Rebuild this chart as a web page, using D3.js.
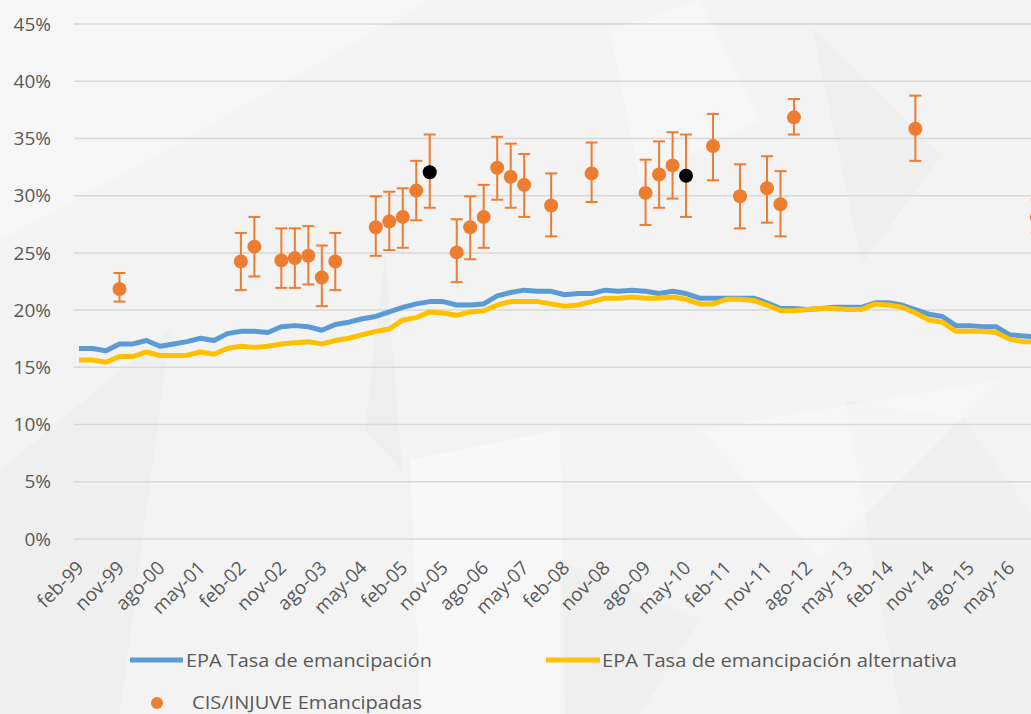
<!DOCTYPE html>
<html>
<head>
<meta charset="utf-8">
<script src="https://cdn.jsdelivr.net/npm/d3@7"></script>
<style>
  body { margin: 0; background: #f3f3f3; overflow: hidden; }
  text { font-family: "Open Sans", sans-serif; fill: #595959; }
</style>
</head>
<body>
<div id="grafiek"></div>
<script>
// trimestres (feb-99 .. nov-16)
var trimestres = [
  "feb-99","may-99","ago-99","nov-99","feb-00","may-00","ago-00","nov-00",
  "feb-01","may-01","ago-01","nov-01","feb-02","may-02","ago-02","nov-02",
  "feb-03","may-03","ago-03","nov-03","feb-04","may-04","ago-04","nov-04",
  "feb-05","may-05","ago-05","nov-05","feb-06","may-06","ago-06","nov-06",
  "feb-07","may-07","ago-07","nov-07","feb-08","may-08","ago-08","nov-08",
  "feb-09","may-09","ago-09","nov-09","feb-10","may-10","ago-10","nov-10",
  "feb-11","may-11","ago-11","nov-11","feb-12","may-12","ago-12","nov-12",
  "feb-13","may-13","ago-13","nov-13","feb-14","may-14","ago-14","nov-14",
  "feb-15","may-15","ago-15","nov-15","feb-16","may-16","ago-16","nov-16"
];

// etiquetas del eje x (cada 9 meses)
var etiquetasX = [
  "feb-99","nov-99","ago-00","may-01","feb-02","nov-02","ago-03","may-04",
  "feb-05","nov-05","ago-06","may-07","feb-08","nov-08","ago-09","may-10",
  "feb-11","nov-11","ago-12","may-13","feb-14","nov-14","ago-15","may-16"
];

// EPA Tasa de emancipación (%)
var epaTasa = [
  16.6,16.6,16.4,17.0,17.0,17.3,16.8,17.0,17.2,17.5,17.3,17.9,18.1,18.1,18.0,18.5,
  18.6,18.5,18.2,18.7,18.9,19.2,19.4,19.8,20.2,20.5,20.7,20.7,20.4,20.4,20.5,21.2,
  21.5,21.7,21.6,21.6,21.3,21.4,21.4,21.7,21.6,21.7,21.6,21.4,21.6,21.4,21.0,21.0,
  21.0,21.0,21.0,20.6,20.1,20.1,20.0,20.1,20.2,20.2,20.2,20.6,20.6,20.4,20.0,19.6,
  19.4,18.6,18.6,18.5,18.5,17.8,17.7,17.6
];

// EPA Tasa de emancipación alternativa (%)
var epaAlternativa = [
  15.6,15.6,15.4,15.9,15.9,16.3,16.0,16.0,16.0,16.3,16.1,16.6,16.8,16.7,16.8,17.0,
  17.1,17.2,17.0,17.3,17.5,17.8,18.1,18.3,19.1,19.3,19.8,19.7,19.5,19.8,19.9,20.4,
  20.7,20.7,20.7,20.5,20.3,20.4,20.7,21.0,21.0,21.1,21.0,21.0,21.1,20.9,20.5,20.5,
  20.9,20.9,20.8,20.4,19.9,19.9,20.0,20.1,20.1,20.0,20.0,20.5,20.4,20.2,19.7,19.1,
  18.9,18.1,18.1,18.1,18.0,17.4,17.2,17.2
];

// CIS/INJUVE Emancipadas: trimestre, valor, intervalo
var cisTrimestre = ["nov-99","feb-02","may-02","nov-02","feb-03","may-03","ago-03","nov-03",
  "ago-04","nov-04","feb-05","may-05","ago-05","feb-06","may-06","ago-06","nov-06","feb-07",
  "may-07","nov-07","ago-08","ago-09","nov-09","feb-10","may-10","nov-10","may-11","nov-11",
  "feb-12","may-12","ago-14","nov-16"];
var cisValor = [21.8,24.2,25.5,24.3,24.5,24.7,22.8,24.2,27.2,27.7,28.1,30.4,32.0,25.0,27.2,28.1,
  32.4,31.6,30.9,29.1,31.9,30.2,31.8,32.6,31.7,34.3,29.9,30.6,29.2,36.8,35.8,28.1];
var cisMin = [20.7,21.7,22.9,21.9,21.9,22.2,20.3,21.7,24.7,25.2,25.4,27.8,28.9,22.4,24.4,25.4,
  29.6,28.9,28.1,26.4,29.4,27.4,28.9,29.7,28.1,31.3,27.1,27.6,26.4,35.3,33.0,26.7];
var cisMax = [23.2,26.7,28.1,27.1,27.1,27.3,25.6,26.7,29.9,30.3,30.6,33.0,35.3,27.9,29.9,30.9,
  35.1,34.5,33.6,31.9,34.6,33.1,34.7,35.5,35.3,37.1,32.7,33.4,32.1,38.4,38.7,29.6];
// puntos marcados en negro
var cisNegro = ["ago-05","may-10"];

var ticksY = [0,5,10,15,20,25,30,35,40,45];

var breedte = 1031, hoogte = 714;
var kleurBlauw = "#5B9BD5", kleurGeel = "#FFC000", kleurOranje = "#ED7D31";

var svg = d3.select("#grafiek").append("svg")
  .attr("width", breedte).attr("height", hoogte);

// fondo con polígonos claros
svg.append("rect").attr("width", breedte).attr("height", hoogte).attr("fill", "#f3f3f3");
var fondo = [
  {p: [[0,0],[430,0],[130,170],[0,240]], c: "#ffffff", o: 0.3},
  {p: [[0,470],[170,330],[120,714],[0,714]], c: "#e8e8e8", o: 0.3},
  {p: [[365,430],[385,255],[402,470]], c: "#e6e6e6", o: 0.35},
  {p: [[410,460],[560,430],[565,714],[420,714]], c: "#ffffff", o: 0.4},
  {p: [[812,27],[862,264],[942,155]], c: "#e8e8e8", o: 0.35},
  {p: [[610,30],[700,0],[760,120],[640,180]], c: "#ffffff", o: 0.3},
  {p: [[845,400],[965,419],[1031,515],[1031,714],[900,714]], c: "#eaeaea", o: 0.3},
  {p: [[560,560],[700,620],[640,714],[560,714]], c: "#e8e8e8", o: 0.3},
  {p: [[700,430],[1000,380],[820,560]], c: "#ffffff", o: 0.3}
];
svg.append("g").selectAll("polygon").data(fondo).enter().append("polygon")
  .attr("points", function(d) { return d.p.join(" "); })
  .attr("fill", function(d) { return d.c; })
  .attr("opacity", function(d) { return d.o; });

// schalen
var x = d3.scalePoint().domain(trimestres).range([79, 79 + 13.49 * (trimestres.length - 1)]);
var y = d3.scaleLinear().domain([0, 45]).range([538.5, 23.5]);

// rejilla y etiquetas eje y
var ejeY = d3.axisLeft(y).tickValues(ticksY).tickSize(-(breedte - 74))
  .tickFormat(function(d) { return d + "%"; });
var gY = svg.append("g").attr("transform", "translate(74,0)").call(ejeY);
gY.select(".domain").remove();
gY.selectAll("line").attr("stroke", "#d9d9d9").attr("stroke-width", 1.5);
gY.selectAll("text").attr("x", -23).attr("dy", "0.35em")
  .style("font-size", "19px").style("font-family", "'Open Sans', sans-serif").attr("fill", "#595959");

// etiquetas eje x
svg.append("g").selectAll("text").data(etiquetasX).enter().append("text")
  .attr("text-anchor", "end")
  .attr("transform", function(d) { return "translate(" + (x(d) + 6) + ",569) rotate(-45)"; })
  .style("font-size", "19px")
  .text(function(d) { return d; });

// lineas
var lijn = function(waarden) {
  return d3.line().x(function(d, i) { return x(trimestres[i]); })
    .y(function(d) { return y(d); })(waarden);
};
svg.append("path").attr("d", lijn(epaTasa)).attr("fill", "none")
  .attr("stroke", kleurBlauw).attr("stroke-width", 5).attr("stroke-linejoin", "round");
svg.append("path").attr("d", lijn(epaAlternativa)).attr("fill", "none")
  .attr("stroke", kleurGeel).attr("stroke-width", 5).attr("stroke-linejoin", "round");

// puntos CIS con barras de error
var cis = cisTrimestre.map(function(t, i) {
  return {t: t, v: cisValor[i], lo: cisMin[i], hi: cisMax[i]};
});
var puntos = svg.append("g").selectAll("g").data(cis).enter().append("g");
puntos.append("line")
  .attr("x1", function(d) { return x(d.t); }).attr("x2", function(d) { return x(d.t); })
  .attr("y1", function(d) { return y(d.lo); }).attr("y2", function(d) { return y(d.hi); })
  .attr("stroke", kleurOranje).attr("stroke-width", 2);
["lo", "hi"].forEach(function(k) {
  puntos.append("line")
    .attr("x1", function(d) { return x(d.t) - 6; }).attr("x2", function(d) { return x(d.t) + 6; })
    .attr("y1", function(d) { return y(d[k]); }).attr("y2", function(d) { return y(d[k]); })
    .attr("stroke", kleurOranje).attr("stroke-width", 2);
});
puntos.append("circle")
  .attr("cx", function(d) { return x(d.t); }).attr("cy", function(d) { return y(d.v); })
  .attr("r", 7)
  .attr("fill", function(d) { return cisNegro.includes(d.t) ? "#000000" : kleurOranje; });

// leyenda
var leyenda = svg.append("g");
leyenda.append("line").attr("x1", 130).attr("x2", 183).attr("y1", 660).attr("y2", 660)
  .attr("stroke", kleurBlauw).attr("stroke-width", 5);
leyenda.append("text").attr("x", 186).attr("y", 667).style("font-size", "19px")
  .attr("textLength", 246).attr("lengthAdjust", "spacingAndGlyphs")
  .text("EPA Tasa de emancipación");
leyenda.append("line").attr("x1", 546).attr("x2", 600).attr("y1", 660).attr("y2", 660)
  .attr("stroke", kleurGeel).attr("stroke-width", 5);
leyenda.append("text").attr("x", 602).attr("y", 667).style("font-size", "19px")
  .attr("textLength", 355).attr("lengthAdjust", "spacingAndGlyphs")
  .text("EPA Tasa de emancipación alternativa");
leyenda.append("circle").attr("cx", 157).attr("cy", 703).attr("r", 6).attr("fill", kleurOranje);
leyenda.append("text").attr("x", 192).attr("y", 709).style("font-size", "18px")
  .attr("textLength", 230).attr("lengthAdjust", "spacingAndGlyphs")
  .text("CIS/INJUVE Emancipadas");
</script>
</body>
</html>
